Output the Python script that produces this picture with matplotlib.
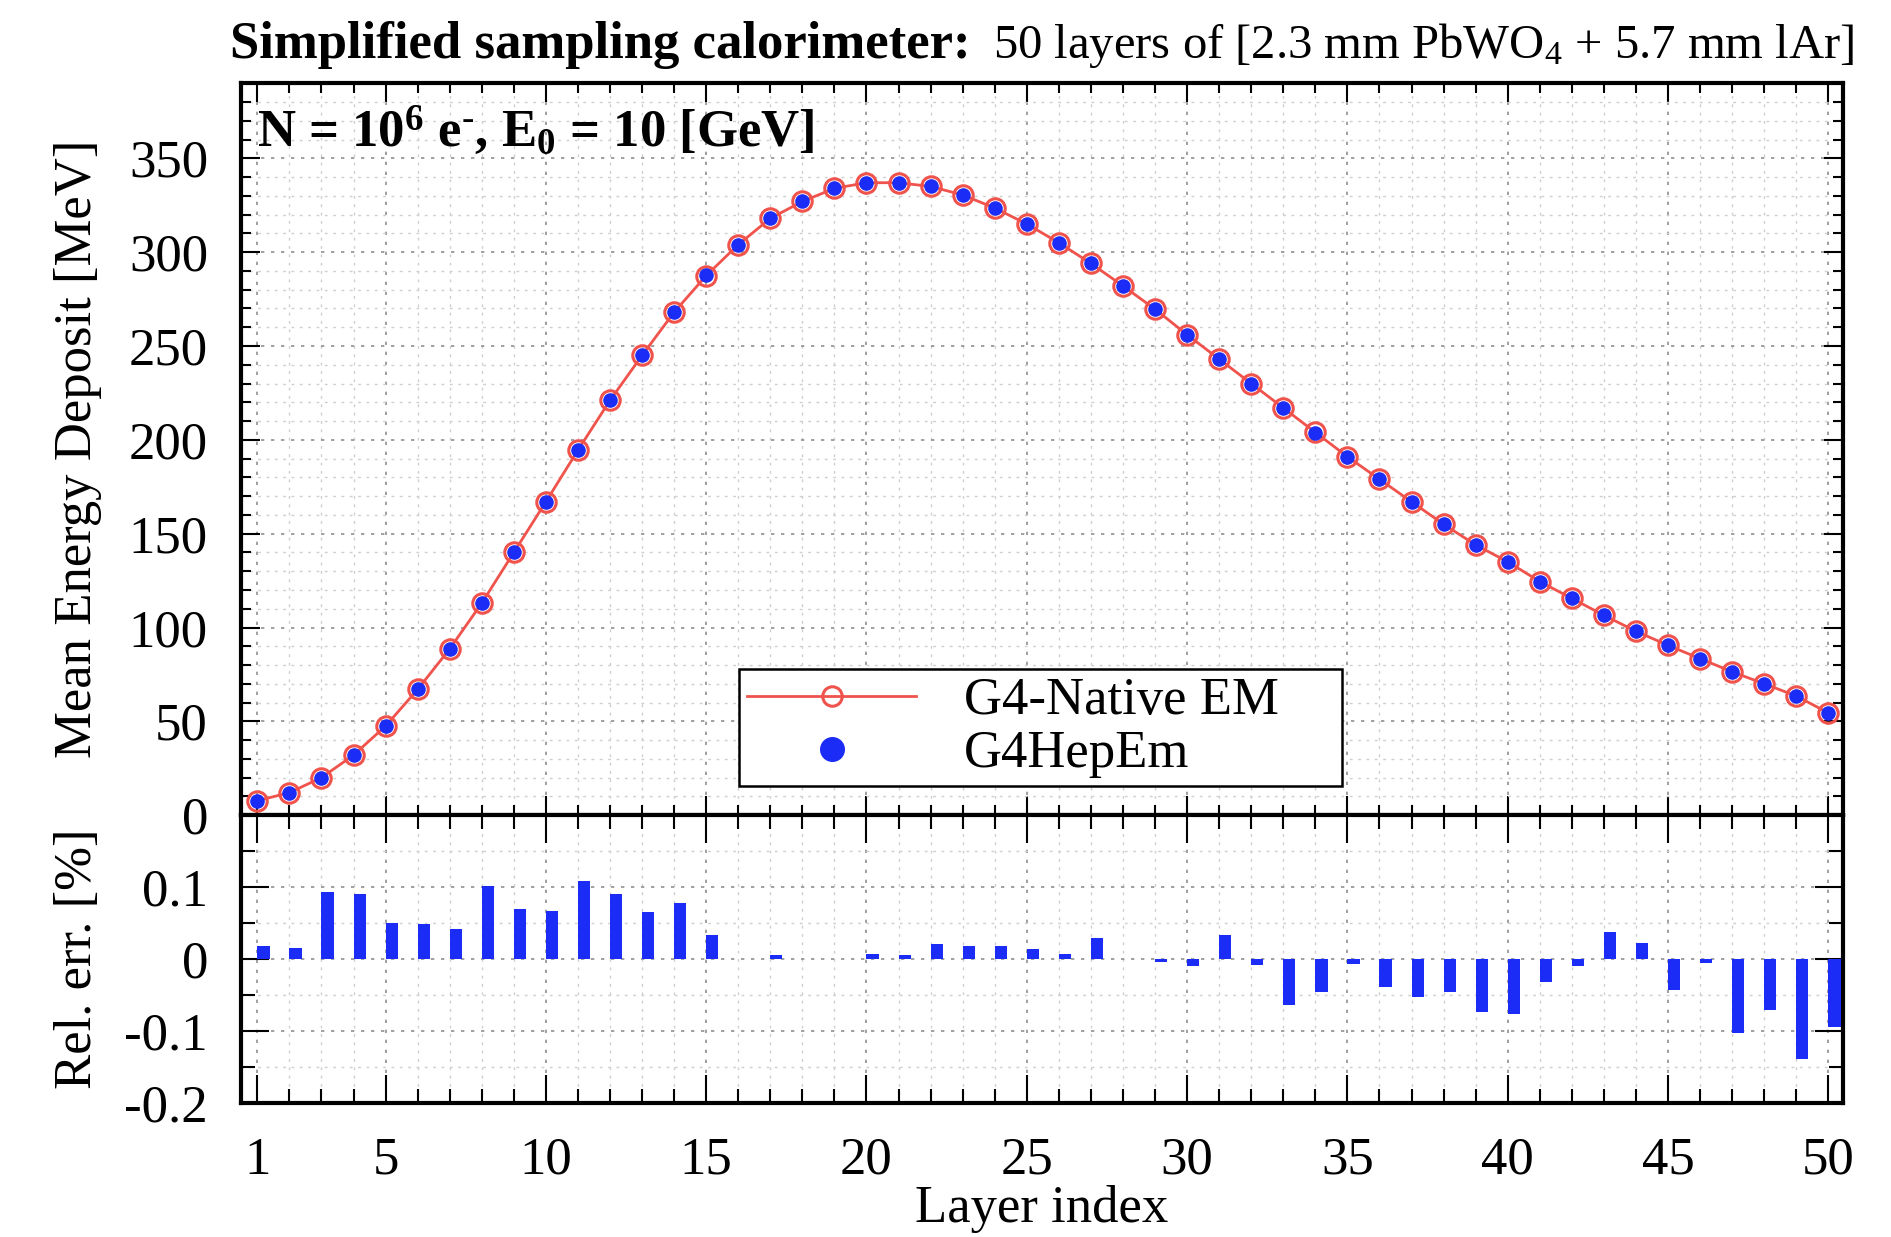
import numpy as np
import matplotlib
matplotlib.use("Agg")
import matplotlib.pyplot as plt
from matplotlib.ticker import MultipleLocator, FixedLocator

plt.rcParams.update({
    "font.family": "Liberation Serif",
    "mathtext.fontset": "custom",
    "mathtext.rm": "Liberation Serif",
    "mathtext.it": "Liberation Serif:italic",
    "mathtext.bf": "Liberation Serif:bold",
    "axes.unicode_minus": False,
})

# data
layers = np.arange(1, 51)
native_em = [7.7, 12, 20, 32, 47.5, 67, 88.6, 113, 140, 167,
             194.5, 221, 245, 268, 287.5, 304, 318, 327, 334, 337,
             337, 335, 330.5, 323.5, 315, 305, 294, 282, 269.6, 256,
             243, 230, 217, 204, 191, 179, 167, 155, 144, 135,
             124.5, 115.5, 106.5, 98, 90.5, 83.4, 76.4, 70, 63.5, 54.5]
hepem = [7.7, 12, 20, 32, 47.5, 67, 88.7, 113.1, 140.1, 167.1,
         194.7, 221.2, 245.2, 268.2, 287.6, 304, 318, 327, 334, 337,
         337, 335.1, 330.6, 323.6, 315, 305, 294.1, 282, 269.6, 256,
         243.1, 230, 216.9, 203.9, 191, 178.9, 166.9, 154.9, 143.9, 134.9,
         124.5, 115.5, 106.5, 98, 90.5, 83.4, 76.3, 70, 63.4, 54.4]
rel_err = [0.018, 0.015, 0.093, 0.091, 0.050, 0.049, 0.042, 0.102, 0.070, 0.067,
           0.109, 0.090, 0.066, 0.078, 0.034, 0.0, 0.006, 0.0, 0.0, 0.008,
           0.006, 0.021, 0.018, 0.019, 0.014, 0.008, 0.030, 0.0, -0.004, -0.010,
           0.034, -0.008, -0.063, -0.045, -0.007, -0.038, -0.052, -0.045, -0.073, -0.076,
           -0.032, -0.009, 0.038, 0.022, -0.043, -0.005, -0.102, -0.070, -0.138, -0.094]

red = '#f0524c'
blue = '#1a2cf5'
fs = 38

fig = plt.figure(figsize=(18.91, 12.37), dpi=100)
ax1 = fig.add_axes([0.1276, 0.341, 0.8469, 0.5917])
ax2 = fig.add_axes([0.1276, 0.108, 0.8469, 0.233], sharex=ax1)

ax1.plot(layers, native_em, '-', color=red, lw=2, marker='o', ms=14, mfc='none',
         mec=red, mew=2.2, label='G4-Native EM', zorder=3)
ax1.plot(layers, hepem, 'o', color=blue, ms=10.5, mec='none', label='G4HepEm', zorder=4)
ax2.bar(layers, rel_err, width=0.38, align='edge', color=blue, zorder=3)

ax1.set_xlim(0.5, 50.45)
ax1.set_ylim(0, 390)
ax2.set_ylim(-0.2, 0.2)

for ax in (ax1, ax2):
    ax.xaxis.set_major_locator(FixedLocator([1, 5, 10, 15, 20, 25, 30, 35, 40, 45, 50]))
    ax.xaxis.set_minor_locator(MultipleLocator(1))
    ax.grid(True, which='major', color='#909090', linestyle=(0, (2, 4)), lw=1.2, zorder=0)
    ax.grid(True, which='minor', color='#cfcfcf', linestyle=(0, (2, 4)), lw=1.0, zorder=0)
    ax.tick_params(which='both', direction='in', top=True, right=True,
                   labelsize=fs, width=1.5)
    ax.tick_params(axis='y', pad=24)
    for sp in ax.spines.values():
        sp.set_linewidth(3)

ax1.yaxis.set_major_locator(MultipleLocator(50))
ax1.yaxis.set_minor_locator(MultipleLocator(10))
ax1.tick_params(which='major', length=14)
ax1.tick_params(which='minor', length=7)
ax1.tick_params(axis='x', labelbottom=False)
ax1.set_yticks([0, 50, 100, 150, 200, 250, 300, 350])

ax2.yaxis.set_major_locator(FixedLocator([-0.2, -0.1, 0, 0.1, 0.2]))
ax2.yaxis.set_minor_locator(MultipleLocator(0.05))
ax2.set_yticks([-0.2, -0.1, 0, 0.1])
ax2.set_yticklabels(['-0.2', '-0.1', '0', '0.1'])
ax2.tick_params(which='major', length=20)
ax2.tick_params(which='minor', length=10)
ax2.tick_params(axis='x', pad=24)
ax2.set_xlabel('Layer index', fontsize=fs, labelpad=0)

fig.text(0.0415, 0.637, 'Mean Energy Deposit [MeV]', fontsize=fs, rotation=90,
         ha='center', va='center')
fig.text(0.0415, 0.225, 'Rel. err. [%]', fontsize=fs, rotation=90,
         ha='center', va='center')

fig.text(0.5134, 0.953, 'Simplified sampling calorimeter:', fontsize=38,
         fontweight='bold', ha='right', va='baseline')
fig.text(0.525, 0.953, r'50 layers of [2.3 mm PbWO$_4$ + 5.7 mm lAr]', fontsize=35,
         ha='left', va='baseline')

ax1.text(0.01, 0.913, r'N = 10$^{\mathbf{6}}$ e$^{\mathbf{\text{-}}}$, E$_{\mathbf{0}}$ = 10 [GeV]',
         transform=ax1.transAxes, fontsize=38, fontweight='bold', ha='left', va='baseline')

leg = ax1.legend(loc='lower left', bbox_to_anchor=(0.311, 0.0395, 0.3765, 0.1466),
                 mode='expand', fontsize=fs, labelspacing=0.1, borderpad=0.15,
                 borderaxespad=0, handlelength=3.2, handletextpad=0.9, fancybox=False,
                 edgecolor='k', framealpha=1)
leg.get_frame().set_linewidth(1.8)
leg.legend_handles[1].set_markersize(18)

fig.savefig('out.png', dpi=100)
